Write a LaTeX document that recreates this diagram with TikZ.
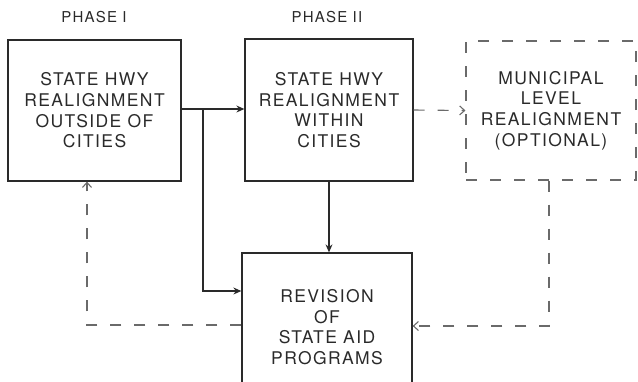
\documentclass[tikz,border=0pt]{standalone}
\usepackage{fontspec}
\setmainfont{TeX Gyre Heros}[LetterSpace=8]
\usetikzlibrary{arrows.meta}
\definecolor{ink}{HTML}{2A2A2A}
\definecolor{dashink}{HTML}{6A6A6A}
\tikzset{
  x=1pt,y=-1pt,
  boxtext/.style={font=\fontsize{17.5}{20.7}\selectfont, text=ink, align=center},
  solidbox/.style={boxtext, draw=ink, line width=1.3pt, inner sep=0pt},
  dashbox/.style={boxtext, draw=dashink, line width=1.1pt, dash pattern=on 11pt off 13pt, inner sep=0pt},
  solidarrow/.style={draw=ink, line width=1.1pt, -{Stealth[length=8pt,width=7pt]}},
  dasharrow/.style={draw=dashink, line width=1.1pt, dash pattern=on 11pt off 13pt, -{Straight Barb[length=5pt,width=9pt]}},
  phaselabel/.style={font=\fontsize{15}{18}\selectfont, text=ink}
}
\begin{document}
\begin{tikzpicture}
\useasboundingbox (0,0) rectangle (638,381);
\node[phaselabel] (p1) at (94,17) {PHASE I};
\node[phaselabel] (p2) at (327,17) {PHASE II};
\node[solidbox, minimum width=173pt, minimum height=141pt] (b1) at (94.5,110.5)
  {STATE HWY\\REALIGNMENT\\OUTSIDE OF\\CITIES};
\node[solidbox, minimum width=168pt, minimum height=142pt] (b2) at (329,110)
  {STATE HWY\\REALIGNMENT\\WITHIN\\CITIES};
\node[dashbox, minimum width=170pt, minimum height=139pt] (b3) at (551,110.5)
  {MUNICIPAL\\LEVEL\\REALIGNMENT\\(OPTIONAL)};
\node[solidbox, minimum width=170pt, minimum height=148pt] (b4) at (327,327)
  {REVISION\\OF\\STATE AID\\PROGRAMS};
\coordinate (j) at (203,109);
\coordinate (k) at (203,291);
\coordinate (m) at (549,326);
\coordinate (n) at (87,325);
\draw[solidarrow] (b1.east |- j) -- (b2.west |- j);
\draw[solidarrow] (j) -- (k) -- (b4.west |- k);
\draw[solidarrow] (b2.south) -- (b2.south |- b4.north);
\draw[dasharrow] (b2.east) -- (b3.west);
\draw[dasharrow] (b3.south -| m) -- (m) -- (b4.east |- m);
\draw[dasharrow] (b4.west |- n) -- (n) -- (b1.south -| n);
\end{tikzpicture}
\end{document}
